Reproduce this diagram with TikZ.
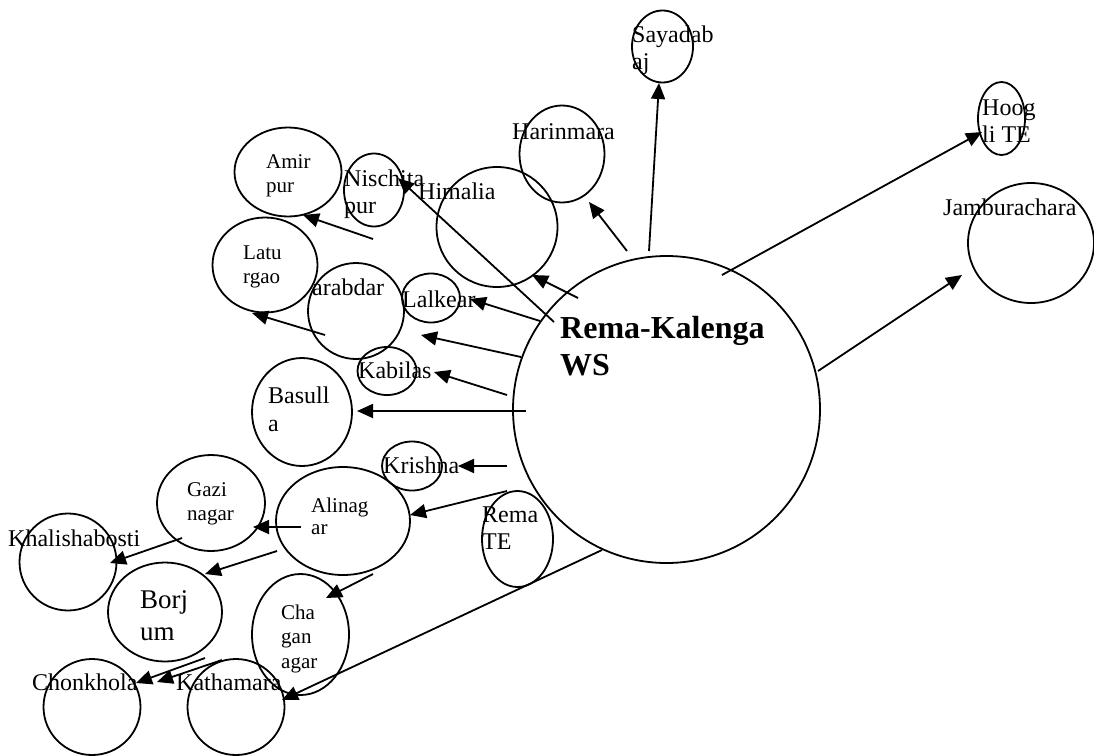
\documentclass[tikz,border=0pt]{standalone}
\usepackage{fontspec}
\setmainfont{Liberation Serif}
\usetikzlibrary{shapes.geometric,arrows.meta}
% stacked lines whose baseline is that of the first line
\newcommand{\stacklines}[1]{\begin{tabular}[t]{@{}l@{}}#1\end{tabular}}
\begin{document}
\begin{tikzpicture}[x=1pt,y=-1pt,
  site/.style={draw, ellipse, line width=1.8pt, inner sep=0pt},
  lbl/.style={anchor=base west, inner sep=0pt, font=\fontsize{24}{27.5}\selectfont},
  small/.style={font=\fontsize{21}{24.5}\selectfont},
  link/.style={line width=1.8pt, -{Triangle[length=16pt,width=14pt]}},
]
\useasboundingbox (0,0) rectangle (1094,755);

% ---- sites (ellipses) ----
\node[site, minimum width=307pt, minimum height=307pt] (main)    at (666.5,409.5) {};
\node[site, minimum width=61pt,  minimum height=72pt]  (say)     at (662.5,46.5) {};
\node[site, minimum width=85pt,  minimum height=97pt]  (harin)   at (562,154) {};
\node[site, minimum width=47pt,  minimum height=73pt]  (hoog)    at (1001.5,118.5) {};
\node[site, minimum width=126pt, minimum height=120pt] (jambu)   at (1031,243) {};
\node[site, minimum width=121pt, minimum height=120pt] (himalia) at (497,227) {};
\node[site, minimum width=60pt,  minimum height=73pt]  (nisch)   at (374,190) {};
\node[site, minimum width=107pt, minimum height=89pt]  (amir)    at (288,172) {};
\node[site, minimum width=105pt, minimum height=95pt]  (latu)    at (265,265) {};
\node[site, minimum width=96pt,  minimum height=96pt]  (arab)    at (356,311) {};
\node[site, minimum width=58pt,  minimum height=49pt]  (lalk)    at (431,298) {};
\node[site, minimum width=59pt,  minimum height=48pt]  (kabil)   at (387,371) {};
\node[site, minimum width=100pt, minimum height=108pt] (basul)   at (302,412) {};
\node[site, minimum width=60pt,  minimum height=49pt]  (krish)   at (412,466) {};
\node[site, minimum width=134pt, minimum height=108pt] (alin)    at (343,521) {};
\node[site, minimum width=71pt,  minimum height=96pt]  (rema)    at (517.5,539) {};
\node[site, minimum width=108pt, minimum height=96pt]  (gazi)    at (211,503) {};
\node[site, minimum width=97pt,  minimum height=97pt]  (khali)   at (68,562) {};
\node[site, minimum width=114pt, minimum height=99pt]  (borj)    at (165,612) {};
\node[site, minimum width=97pt,  minimum height=121pt] (chag)    at (300.5,634.5) {};
\node[site, minimum width=97pt,  minimum height=96pt]  (chonk)   at (92,707) {};
\node[site, minimum width=97pt,  minimum height=96pt]  (katha)   at (236,707) {};

% ---- labels ----
\node[lbl, font=\fontsize{32}{37}\selectfont\bfseries] (tmain) at (560,338) {\stacklines{Rema-Kalenga\\WS}};
\node[lbl] (tsay)     at (632,42)  {\stacklines{Sayadab\\aj}};
\node[lbl] (tharin)   at (512,139) {Harinmara};
\node[lbl] (thoog)    at (982,115) {\stacklines{Hoog\\li TE}};
\node[lbl] (tjambu)   at (943,215) {Jamburachara};
\node[lbl] (thimalia) at (418,199) {Himalia};
\node[lbl] (tnisch)   at (344,186) {\stacklines{Nischita\\pur}};
\node[lbl, small] (tamir) at (266,168) {\stacklines{Amir\\pur}};
\node[lbl, small] (tlatu) at (243,259) {\stacklines{Latu\\rgao}};
\node[lbl] (tarab)    at (312,295) {arabdar};
\node[lbl] (tlalk)    at (402,307) {Lalkear};
\node[lbl] (tkabil)   at (358,378) {Kabilas};
\node[lbl, font=\fontsize{24}{28}\selectfont] (tbasul) at (268,403) {\stacklines{Basull\\a}};
\node[lbl] (tkrish)   at (383,473) {Krishna};
\node[lbl, small] (tgazi) at (187,496) {\stacklines{Gazi\\nagar}};
\node[lbl, small, font=\fontsize{21}{22.5}\selectfont] (talin) at (311,512) {\stacklines{Alinag\\ar}};
\node[lbl] (trema)    at (482,522) {\stacklines{Rema\\TE}};
\node[lbl] (tkhali)   at (8,546)   {Khalishabosti};
\node[lbl, font=\fontsize{27}{32}\selectfont] (tborj) at (140,608) {\stacklines{Borj\\um}};
\node[lbl, small] (tchag) at (281,619) {\stacklines{Cha\\gan\\agar}};
\node[lbl] (tchonk)   at (32,690)  {Chonkhola};
\node[lbl] (tkatha)   at (176,690) {Kathamara};

% ---- connector end points ----
\coordinate (fSay)   at (649,251);  \coordinate (hSay)   at (659,83);
\coordinate (fHarin) at (627,251);  \coordinate (hHarin) at (589,202);
\coordinate (fHoog)  at (722,275);  \coordinate (hHoog)  at (982,132);
\coordinate (fJambu) at (818,371);  \coordinate (hJambu) at (962,275);
\coordinate (fHim)   at (578,298);  \coordinate (hHim)   at (532,275);
\coordinate (fNisch) at (554,322);  \coordinate (hNisch) at (398,178);
\coordinate (fLalk)  at (540,321);  \coordinate (hLalk)  at (470,299);
\coordinate (fArab)  at (521,357);  \coordinate (hArab)  at (421,335);
\coordinate (fKabil) at (507,395);  \coordinate (hKabil) at (434,372);
\coordinate (fBasul) at (526,411);  \coordinate (hBasul) at (357,411);
\coordinate (fKrish) at (507,466);  \coordinate (hKrish) at (458,466);
\coordinate (fAlin)  at (507,491);  \coordinate (hAlin)  at (410,515);
\coordinate (fKatha) at (602,550);  \coordinate (hKatha) at (282,700);
\coordinate (fGazi)  at (301,527);  \coordinate (hGazi)  at (253,527);
\coordinate (fBorj)  at (277,551);  \coordinate (hBorj)  at (205,574);
\coordinate (fKhali) at (182,538);  \coordinate (hKhali) at (110,563);
\coordinate (fChag)  at (373,574);  \coordinate (hChag)  at (326,598);
\coordinate (fChonA) at (205,658);  \coordinate (hChonA) at (136,683);
\coordinate (fChonB) at (222,660);  \coordinate (hChonB) at (157,682);
\coordinate (fAmir)  at (373,239);  \coordinate (hAmir)  at (303,215);
\coordinate (fLatu)  at (325,335);  \coordinate (hLatu)  at (252,313);

% ---- connectors ----
\foreach \e in {Say,Harin,Hoog,Jambu,Him,Nisch,Lalk,Arab,Kabil,Basul,Krish,Alin,Katha,Gazi,Borj,Khali,Chag,ChonA,ChonB,Amir,Latu}
  \draw[link] (f\e) -- (h\e);
\end{tikzpicture}
\end{document}
